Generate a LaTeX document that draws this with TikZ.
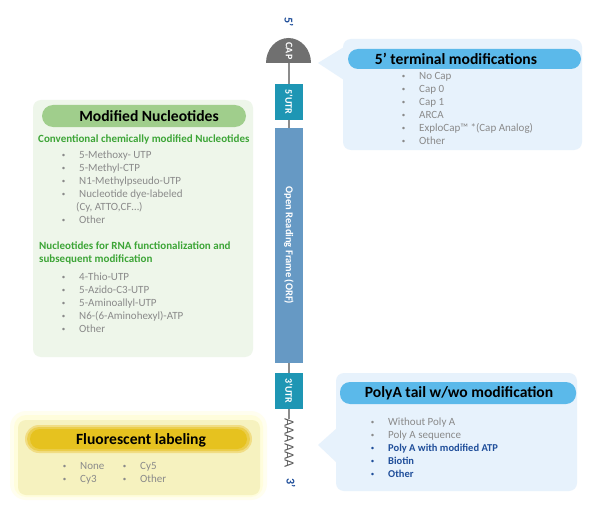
\documentclass[tikz,border=0pt]{standalone}
\usepackage{fontspec}
\setmainfont{Carlito}
\usepackage{xcolor}
\usetikzlibrary{positioning,shapes.geometric}

\definecolor{capgray}{HTML}{707070}
\definecolor{utrteal}{HTML}{1E96B4}
\definecolor{orfblue}{HTML}{6699C4}
\definecolor{callblue}{HTML}{E7F2FC}
\definecolor{headblue}{HTML}{5BB9EA}
\definecolor{nucgreen}{HTML}{EEF6EA}
\definecolor{headgreen}{HTML}{A0CE8C}
\definecolor{subgreen}{HTML}{3DA537}
\definecolor{itemgray}{HTML}{8A8A8A}
\definecolor{darkblue}{HTML}{1F4E9A}
\definecolor{fluoyellow}{HTML}{F6F2BF}
\definecolor{headgold}{HTML}{E6C21F}

\tikzset{
  segbox/.style={rotate=-90, minimum height=28pt, inner sep=0pt, text=white,
    font=\bfseries\fontsize{10}{11}\selectfont},
  endlabel/.style={rotate=-90, text=darkblue, font=\bfseries\fontsize{12}{12}\selectfont},
  strand/.style={draw=gray!90, line width=1.2pt},
  header/.style={font=\bfseries\fontsize{15.6}{17}\selectfont, text=black, inner sep=0pt},
  subhead/.style={anchor=west, inner sep=0pt, text=subgreen, align=left,
    font=\bfseries\fontsize{11}{13.5}\selectfont},
  plain/.style={anchor=west, inner sep=0pt, text=itemgray,
    font=\fontsize{11}{13}\selectfont, text height=7.5pt, text depth=2.2pt},
  itm/.style={plain, label={[text=#1, font=\fontsize{7}{7}\selectfont, label distance=10pt]left:\textbullet}},
  itm/.default=itemgray,
  itmb/.style={itm=darkblue, text=darkblue, font=\bfseries\fontsize{10.5}{13}\selectfont},
}

\begin{document}
\begin{tikzpicture}[x=1pt, y=-1pt]
\useasboundingbox (0,0) rectangle (595,511);
\fill[white] (0,0) rectangle (595,511);

% mRNA strand
\node[endlabel] (five) at (289,22) {5’};
\fill[capgray] (266,63) arc[start angle=180, end angle=0, x radius=22.5pt, y radius=25pt] -- cycle;
\coordinate (capbase) at (289,63);
\node[rotate=-90, text=white, font=\bfseries\fontsize{10}{10}\selectfont] (cap) at (289,51) {CAP};
\node[segbox, fill=utrteal, minimum width=36pt] (utr5) at (289,102) {5’UTR};
\node[segbox, fill=orfblue, minimum width=235pt, font=\bfseries\fontsize{10.5}{11}\selectfont] (orf) at (289,245.5) {Open Reading Frame (ORF)};
\node[segbox, fill=utrteal, minimum width=36pt] (utr3) at (289,391) {3’UTR};
\node[rotate=-90, inner sep=0pt, text=gray!70!black, font=\fontsize{14}{14}\selectfont] (tail) at (289,443) {AAAAAA};
\node[endlabel] (three) at (291,483) {3’};
\draw[strand] (capbase) -- (utr5.west);
\draw[strand] (utr5.east) -- (orf.west);
\draw[strand] (orf.east) -- (utr3.west);
\draw[strand] (utr3.east) -- (tail.west);

% 5' terminal modifications
\fill[callblue, rounded corners=8pt] (343,39) rectangle (582,150);
\fill[callblue] (318,63) -- (344,47) -- (344,80) -- cycle;
\fill[headblue, rounded corners=10pt] (348,49) rectangle (581,69);
\node[header] (termhead) at (456,59) {5’ terminal modifications};
\node[itm] (t1) at (419,77) {No Cap};
\node[itm] (t2) at (419,90) {Cap 0};
\node[itm] (t3) at (419,103) {Cap 1};
\node[itm] (t4) at (419,116) {ARCA};
\node[itm] (t5) at (419,129) {ExploCap™ *(Cap Analog)};
\node[itm] (t6) at (419,142) {Other};

% modified nucleotides
\fill[nucgreen, rounded corners=8pt] (33,100) rectangle (253,357);
\fill[headgreen, rounded corners=11pt] (42,105) rectangle (246,127);
\node[header] (nuchead) at (149,116) {Modified Nucleotides};
\node[subhead] (conv) at (38,139) {Conventional chemically modified Nucleotides};
\node[itm] (n1) at (79,156) {5-Methoxy- UTP};
\node[itm] (n2) at (79,169) {5-Methyl-CTP};
\node[itm] (n3) at (79,182) {N1-Methylpseudo-UTP};
\node[itm] (n4) at (79,195) {Nucleotide dye-labeled};
\node[plain] (n4b) at (76,208) {(Cy, ATTO,CF…)};
\node[itm] (n5) at (79,221) {Other};
\node[subhead] (func) at (39,253) {Nucleotides for RNA functionalization and\\subsequent modification};
\node[itm] (f1) at (79,278) {4-Thio-UTP};
\node[itm] (f2) at (79,291) {5-Azido-C3-UTP};
\node[itm] (f3) at (79,304) {5-Aminoallyl-UTP};
\node[itm] (f4) at (79,317) {N6-(6-Aminohexyl)-ATP};
\node[itm] (f5) at (79,330) {Other};

% polyA tail
\fill[callblue, rounded corners=8pt] (336,373) rectangle (577,491);
\fill[callblue] (318,445) -- (337,428) -- (337,463) -- cycle;
\fill[headblue, rounded corners=10pt] (340,382) rectangle (576,404);
\node[header] (polyhead) at (459,393) {PolyA tail w/wo modification};
\node[itm] (p1) at (388,423) {Without Poly A};
\node[itm] (p2) at (388,436) {Poly A sequence};
\node[itmb] (p3) at (388,449) {Poly A with modified ATP};
\node[itmb] (p4) at (388,462) {Biotin};
\node[itmb] (p5) at (388,475) {Other};

% fluorescent labeling (soft glow)
\fill[yellow!30, opacity=.2, rounded corners=16pt] (10,411) rectangle (267,500);
\fill[yellow!30, opacity=.3, rounded corners=12pt] (14,415) rectangle (263,497);
\fill[fluoyellow, rounded corners=8pt] (18,420) rectangle (260,495);
\fill[headgold!55, rounded corners=14pt] (25,425) rectangle (252,453);
\fill[headgold!80, rounded corners=12pt] (27,427) rectangle (250,451);
\fill[headgold, rounded corners=10pt] (30,429) rectangle (247,449);
\node[header] (fluohead) at (141,440) {Fluorescent labeling};
\node[itm] (c1) at (80,467) {None};
\node[itm] (c2) at (80,480) {Cy3};
\node[itm] (c3) at (140,467) {Cy5};
\node[itm] (c4) at (140,480) {Other};
\end{tikzpicture}
\end{document}
